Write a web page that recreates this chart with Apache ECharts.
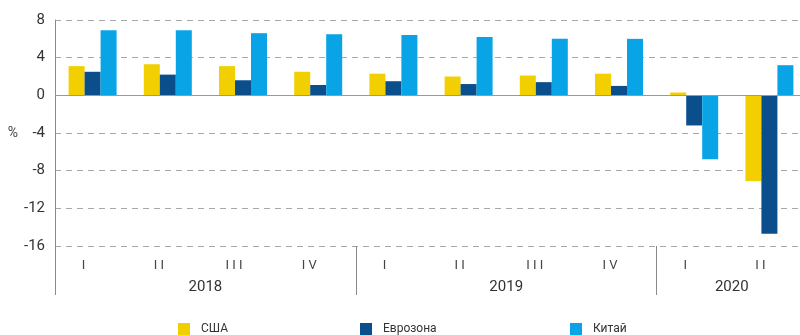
<!DOCTYPE html>
<html><head><meta charset="utf-8">
<script src="https://cdn.jsdelivr.net/npm/echarts@6/dist/echarts.min.js"></script>
<style>html,body{margin:0;padding:0;background:#fff}#c{width:800px;height:335px}</style>
</head><body><div id="c"></div>
<script>
const quarters = ['I','I I','I I I','I V','I','I I','I I I','I V','I','I I'];
const years = ['2018','2019','2020'];
const yearSpans = [4,4,2];
const seriesNames = ['США','Еврозона','Китай'];
const usa      = [3.1, 3.3, 3.1, 2.5, 2.3, 2.0, 2.1, 2.3, 0.3, -9.1];
const eurozone = [2.5, 2.2, 1.6, 1.1, 1.5, 1.2, 1.4, 1.0, -3.2, -14.7];
const china    = [6.9, 6.9, 6.6, 6.5, 6.4, 6.2, 6.0, 6.0, -6.8, 3.2];
const yTicks = {min:-16, max:8, step:4};
const yUnit = '%';

const colors = ['#f2cf00','#0a4f8c','#08a4e6'];
const font = 'Roboto, "Liberation Sans", sans-serif';
const legendLeft = [173, 355, 565];

// boundaries and centers of year groups
const bounds = [0]; yearSpans.forEach(s => bounds.push(bounds[bounds.length-1]+s));
const sepIdx = bounds.slice(0, -1);
const yearCenters = {};
years.forEach((y,i)=>{ yearCenters[(bounds[i]+bounds[i+1])/2] = y; });

const chart = echarts.init(document.getElementById('c'));
const mk = (name, data, i) => ({
  name, type:'bar', data, barWidth:16, barGap:'0%',
  itemStyle:{color:colors[i]}, xAxisIndex:0,
  markLine: i===0 ? {silent:true, symbol:'none', label:{show:false},
    lineStyle:{color:'#9b95a8', type:'solid', width:1}, data:[{yAxis:0}]} : undefined
});
chart.setOption({
  animation:false,
  textStyle:{fontFamily:font},
  grid:{left:55, width:752, top:20, bottom:89, outerBoundsMode:'none', containLabel:false},
  legend: seriesNames.map((n,i)=>({
    data:[n], left:legendLeft[i], top:318, itemWidth:12, itemHeight:12,
    icon:'rect', selectedMode:false,
    textStyle:{fontSize:12, color:'#333', padding:[0,0,0,6], fontFamily:font}
  })),
  xAxis:[{
    type:'category', data:quarters, position:'bottom',
    axisLine:{show:false, onZero:false},
    axisTick:{show:true, length:49, interval:(i)=>sepIdx.includes(i), lineStyle:{color:'#8a8a8a'}},
    axisLabel:{fontSize:13, color:'#444', margin:13, padding:[0,18,0,0], interval:0}
  },{
    type:'value', min:0, max:bounds[bounds.length-1], interval:0.5, position:'bottom',
    axisLine:{show:false, onZero:false}, axisTick:{show:false}, splitLine:{show:false},
    axisLabel:{fontSize:15, color:'#333', margin:34, showMinLabel:true, showMaxLabel:true,
      formatter:(v)=> yearCenters[v] || ''}
  }],
  yAxis:{
    type:'value', min:yTicks.min, max:yTicks.max, interval:yTicks.step,
    name:yUnit, nameLocation:'middle', nameGap:29, nameRotate:0,
    nameTextStyle:{fontSize:14, color:'#444'},
    axisLine:{show:true, lineStyle:{color:'#8a8a8a'}},
    axisTick:{show:false},
    axisLabel:{fontSize:15, color:'#333', margin:10},
    splitLine:{show:true, lineStyle:{color:'#a8a8a8', type:[6,5], width:1}}
  },
  series:[mk(seriesNames[0],usa,0), mk(seriesNames[1],eurozone,1), mk(seriesNames[2],china,2)]
});
</script></body></html>
